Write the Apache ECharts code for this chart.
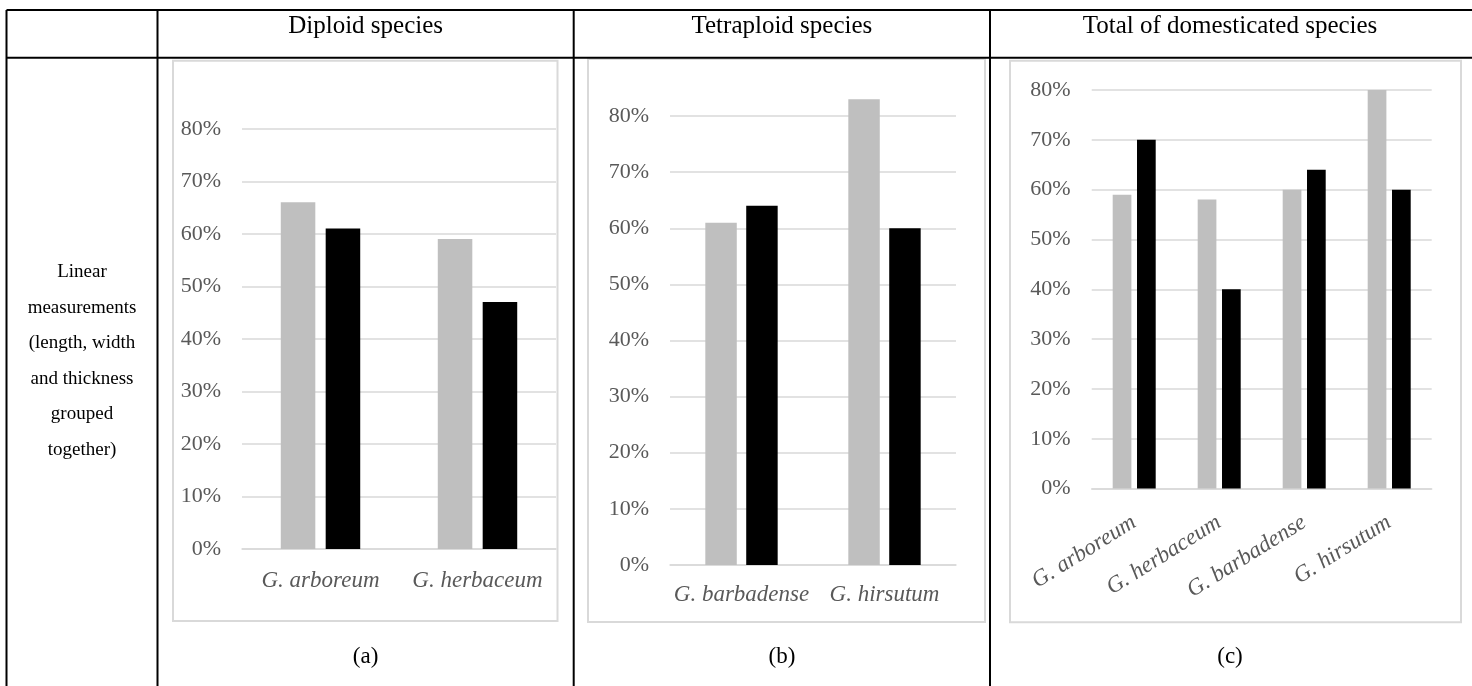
<!DOCTYPE html>
<html>
<head>
<meta charset="utf-8">
<script src="https://cdn.jsdelivr.net/npm/echarts@6/dist/echarts.min.js"></script>
<style>
html,body{margin:0;padding:0;background:#fff;}
#chart{width:1472px;height:686px;}
</style>
</head>
<body>
<div id="chart"></div>
<script>
// ---- Data (percent values) ----
const diploidCats = ['G. arboreum', 'G. herbaceum'];
const diploidGray = [66, 59];
const diploidBlack = [61, 47];

const tetraCats = ['G. barbadense', 'G. hirsutum'];
const tetraGray = [61, 83];
const tetraBlack = [64, 60];

const totalCats = ['G. arboreum', 'G. herbaceum', 'G. barbadense', 'G. hirsutum'];
const totalGray = [59, 58, 60, 80];
const totalBlack = [70, 40, 64, 60];

const yMin = 0, yMax = 80, yStep = 10;
const headers = ['Diploid species', 'Tetraploid species', 'Total of domesticated species'];
const panelLabels = ['(a)', '(b)', '(c)'];
const rowLabel = 'Linear\nmeasurements\n(length, width\nand thickness\ngrouped\ntogether)';

// ---- Style ----
const SERIF = "'Liberation Serif', 'Times New Roman', serif";
const GRAY = '#bfbfbf', BLACK = '#000000', GRID = '#d9d9d9', LABEL = '#595959';

const chart = echarts.init(document.getElementById('chart'), null, {renderer: 'canvas'});

const grids = [
  {left: 242, right: 916, top: 128.8, bottom: 137.1},
  {left: 670, right: 516, top: 116.1, bottom: 121.1},
  {left: 1091.7, right: 40.3, top: 90, bottom: 197.4}
];
const cats = [diploidCats, tetraCats, totalCats];
const grays = [diploidGray, tetraGray, totalGray];
const blacks = [diploidBlack, tetraBlack, totalBlack];
const labelMargins = [21, 19, 32];

const xAxes = cats.map((c, i) => ({
  type: 'category', gridIndex: i, data: c,
  axisLine: {show: true, lineStyle: {color: GRID, width: 1.5}},
  axisTick: {show: false},
  axisLabel: {
    color: LABEL, fontFamily: SERIF, fontStyle: 'italic', fontSize: 23,
    margin: labelMargins[i], rotate: i === 2 ? 32 : 0, interval: 0
  }
}));
const yAxes = cats.map((c, i) => ({
  type: 'value', gridIndex: i, min: yMin, max: yMax, interval: yStep,
  axisLine: {show: false}, axisTick: {show: false},
  splitLine: {show: true, lineStyle: {color: GRID, width: 1.5}},
  axisLabel: {color: LABEL, fontFamily: SERIF, fontSize: 22, margin: 21, formatter: '{value}%'}
}));
const series = [];
cats.forEach((c, i) => {
  series.push({
    name: 'Series 1', type: 'bar', xAxisIndex: i, yAxisIndex: i, data: grays[i],
    barWidth: '22%', barGap: '30%', clip: false,
    itemStyle: {color: GRAY}, silent: true
  });
  series.push({
    name: 'Series 2', type: 'bar', xAxisIndex: i, yAxisIndex: i, data: blacks[i],
    barWidth: '22%', barGap: '30%', clip: false,
    itemStyle: {color: BLACK}, silent: true
  });
});

// ---- Table and frame decoration ----
const lineEl = (x1, y1, x2, y2) => ({
  type: 'line', shape: {x1, y1, x2, y2},
  style: {stroke: '#000', lineWidth: 2}, silent: true
});
const rectEl = (x, y, w, h) => ({
  type: 'rect', shape: {x, y, width: w, height: h},
  style: {fill: 'none', stroke: GRID, lineWidth: 2}, silent: true, z: -1
});
const textEl = (x, y, t, size, extra) => ({
  type: 'text', x, y, silent: true,
  style: Object.assign({
    text: t, fontFamily: SERIF, fontSize: size, fill: '#000',
    align: 'center', verticalAlign: 'middle',
    textAlign: 'center', textVerticalAlign: 'middle'
  }, extra || {})
});

const colCenters = [365.6, 781.9, 1230];
const graphics = [
  lineEl(6.5, 10, 1472, 10),
  lineEl(6.5, 57.7, 1472, 57.7),
  lineEl(6.5, 10, 6.5, 686),
  lineEl(157.5, 10, 157.5, 686),
  lineEl(573.7, 10, 573.7, 686),
  lineEl(990, 10, 990, 686),
  rectEl(173, 60.7, 384.5, 560.3),
  rectEl(588, 59, 397, 563),
  rectEl(1010, 60.7, 451, 561.5),
  textEl(82, 361, rowLabel, 19, {lineHeight: 35.5})
];
headers.forEach((h, i) => graphics.push(textEl(colCenters[i], 26, h, 25)));
panelLabels.forEach((p, i) => graphics.push(textEl(colCenters[i], 657, p, 23)));

chart.setOption({
  animation: false,
  backgroundColor: '#ffffff',
  grid: grids,
  xAxis: xAxes,
  yAxis: yAxes,
  series: series,
  graphic: graphics
});
</script>
</body>
</html>
